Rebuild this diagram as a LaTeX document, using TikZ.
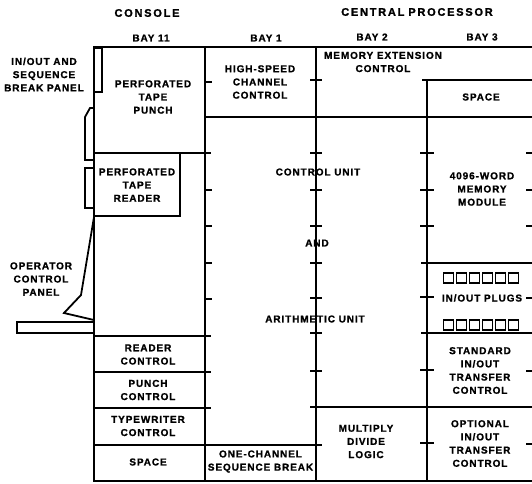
\documentclass[tikz,border=0pt]{standalone}
\usepackage{fontspec}
\newfontfamily\lblfamily[LetterSpace=9,FakeBold=1.2,UprightFont=*-Bold,BoldFont=*-Bold]{Liberation Sans}
\newfontfamily\ttlfamily[LetterSpace=16,FakeBold=1.4,UprightFont=*-Bold,BoldFont=*-Bold]{Liberation Sans}
\begin{document}
\begin{tikzpicture}[x=1pt,y=-1pt,
  lbl/.style={font=\lblfamily\fontsize{10}{13.2}\selectfont, align=center, inner sep=0pt},
  ttl/.style={font=\ttlfamily\fontsize{11}{12}\selectfont, inner sep=0pt},
  frameline/.style={line width=2.6pt},
  wall/.style={line width=2pt},
  tickline/.style={line width=1.5pt},
  plug/.style={line width=1.8pt},
  panelline/.style={line width=1.8pt, line join=miter}]
\useasboundingbox (0,0) rectangle (532,483);

% ---------- headings ----------
\node[ttl] (console) at (147,13) {CONSOLE};
\node[ttl] (cpu) at (417,12) {CENTRAL\hspace{4pt}PROCESSOR};
\node[lbl] (bay11) at (151,38) {BAY 11};
\node[lbl] (bay1) at (266,38) {BAY 1};
\node[lbl] (bay2) at (372,37) {BAY 2};
\node[lbl] (bay3) at (482,37) {BAY 3};

% ---------- outer frame ----------
\draw[frameline] (532,47) -- (94,47) -- (94,481) -- (532,481);

% ---------- bay separators ----------
\draw[wall] (205,47) -- (205,481);
\draw[wall] (316,47) -- (316,481);
\draw[wall] (427,80) -- (427,481);

% ---------- horizontal walls ----------
% console
\draw[wall] (94,153) -- (211,153);
\draw[wall] (94,153) -- (180,153) -- (180,216) -- (94,216);
\draw[wall] (94,336) -- (211,336);
\draw[wall] (94,372) -- (211,372);
\draw[wall] (94,408) -- (211,408);
\draw[wall] (94,445) -- (322,445);
% central processor
\draw[wall] (205,117) -- (532,117);
\draw[wall] (422,80) -- (532,80);
\draw[wall] (421,263) -- (532,263);
\draw[wall] (421,333) -- (532,333);
\draw[wall] (310,407) -- (532,407);

% ---------- ticks ----------
\foreach \ty in {82,190,226,263,299}
  \draw[tickline] (205,\ty) -- (212,\ty);
\foreach \ty in {80,153,190,226,263,298,333,371}
  \draw[tickline] (310,\ty) -- (322,\ty);
\foreach \ty in {153,190,226,297,370,443}
  \draw[tickline] (420,\ty) -- (434,\ty);
\foreach \ty in {153,190,226,298,371,444}
  \draw[tickline] (526,\ty) -- (532,\ty);

% ---------- console side panels ----------
\draw[panelline] (94,48) -- (102,48) -- (102,92) -- (94,92);
\draw[panelline] (94,108) -- (90,108) -- (85,117) -- (85,160) -- (94,160);
\draw[panelline] (94,168) -- (85,168) -- (85,208) -- (94,208);
\draw[panelline] (94,217) -- (81,295) -- (64,313) -- (94,320);
\draw[panelline] (94,322) -- (17,322) -- (17,333) -- (94,333);

% ---------- plugs ----------
\foreach \i in {0,...,5} {
  \draw[plug] ({443.5+13*\i},273) rectangle ({453.5+13*\i},283);
  \draw[plug] ({443.5+13*\i},320) rectangle ({453.5+13*\i},330);
}

% ---------- labels ----------
\node[lbl] (seqpanel) at (44,74.5) {IN/OUT AND\\SEQUENCE\\BREAK PANEL};
\node[lbl] (opc) at (41,279) {OPERATOR\\CONTROL\\PANEL};
\node[lbl] (punch) at (153,97) {PERFORATED\\TAPE\\PUNCH};
\node[lbl] (reader) at (137,185) {PERFORATED\\TAPE\\READER};
\node[lbl] (rdctl) at (148,354.5) {READER\\CONTROL};
\node[lbl] (pchctl) at (148,390) {PUNCH\\CONTROL};
\node[lbl] (twctl) at (148,426) {TYPEWRITER\\CONTROL};
\node[lbl] (space11) at (148,462) {SPACE};
\node[lbl] (hscc) at (260,82) {HIGH-SPEED\\CHANNEL\\CONTROL};
\node[lbl] (onech) at (260.5,461.5) {ONE-CHANNEL\\SEQUENCE BREAK};
\node[lbl] (memext) at (383,62) {MEMORY EXTENSION\\CONTROL};
\node[lbl] (cu) at (318,172) {CONTROL UNIT};
\node[lbl] (and) at (317,243) {AND};
\node[lbl] (au) at (315,319) {ARITHMETIC UNIT};
\node[lbl] (mdl) at (366,441.5) {MULTIPLY\\DIVIDE\\LOGIC};
\node[lbl] (space3) at (481,97) {SPACE};
\node[lbl] (memmod) at (482,189) {4096-WORD\\MEMORY\\MODULE};
\node[lbl] (plugs) at (482,298) {IN/OUT PLUGS};
\node[lbl] (std) at (480,370.5) {STANDARD\\IN/OUT\\TRANSFER\\CONTROL};
\node[lbl] (opt) at (480,443.5) {OPTIONAL\\IN/OUT\\TRANSFER\\CONTROL};
\end{tikzpicture}
\end{document}
